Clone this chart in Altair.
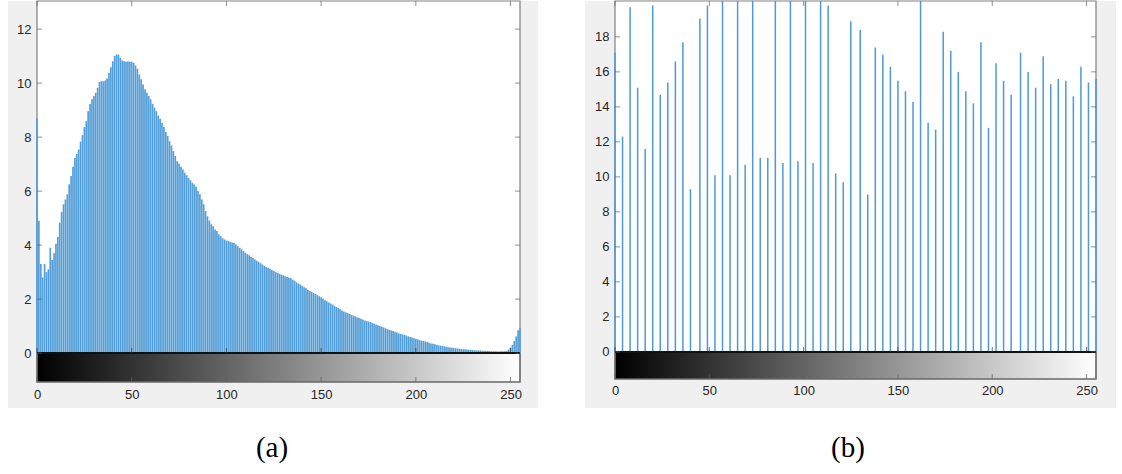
import altair as alt
import pandas as pd

# ---------------- data ----------------
# (a) histogram of original image, one count (scaled) per gray level 0..255
hist_a = [
    8.7, 4.9, 3.3, 2.8, 3.3, 3.0, 3.1, 3.9, 3.45, 3.7, 4.05, 4.3,
    4.83, 5.23, 5.51, 5.69, 5.88, 6.25, 6.56, 6.90, 7.23, 7.38,
    7.54, 7.83, 8.07, 8.37, 8.59, 8.96, 9.23, 9.40, 9.52, 9.64,
    9.83, 10.04, 10.07, 10.07, 10.10, 10.17, 10.38, 10.59, 10.81, 11.0,
    11.06, 11.06, 10.94, 10.84, 10.81, 10.79, 10.81, 10.79, 10.79, 10.75,
    10.65, 10.53, 10.32, 10.14, 9.95, 9.77, 9.64, 9.52, 9.40, 9.23,
    9.09, 8.96, 8.80, 8.68, 8.53, 8.37, 8.19, 8.04, 7.85, 7.69,
    7.48, 7.30, 7.11, 7.01, 6.90, 6.80, 6.68, 6.59, 6.49, 6.40,
    6.31, 6.25, 6.16, 6.00, 5.88, 5.69, 5.51, 5.26, 5.07, 4.91,
    4.77, 4.70, 4.58, 4.52, 4.40, 4.33, 4.25, 4.21, 4.17, 4.15,
    4.12, 4.10, 4.09, 4.02, 3.96, 3.90, 3.84, 3.78, 3.72, 3.66,
    3.62, 3.57, 3.52, 3.47, 3.42, 3.38, 3.33, 3.28, 3.23, 3.19,
    3.16, 3.12, 3.08, 3.04, 3.00, 2.97, 2.94, 2.91, 2.88, 2.85,
    2.82, 2.80, 2.78, 2.72, 2.68, 2.62, 2.58, 2.54, 2.49, 2.44,
    2.40, 2.35, 2.30, 2.27, 2.23, 2.19, 2.15, 2.11, 2.07, 2.02,
    1.96, 1.92, 1.88, 1.84, 1.80, 1.75, 1.71, 1.67, 1.63, 1.58,
    1.54, 1.51, 1.48, 1.45, 1.42, 1.39, 1.36, 1.33, 1.30, 1.27,
    1.24, 1.21, 1.19, 1.17, 1.15, 1.12, 1.09, 1.06, 1.03, 1.00,
    0.98, 0.95, 0.92, 0.89, 0.86, 0.84, 0.82, 0.79, 0.76, 0.73,
    0.71, 0.69, 0.67, 0.65, 0.62, 0.60, 0.58, 0.55, 0.53, 0.51,
    0.48, 0.46, 0.45, 0.43, 0.41, 0.38, 0.36, 0.35, 0.33, 0.31,
    0.29, 0.28, 0.27, 0.25, 0.24, 0.22, 0.21, 0.20, 0.19, 0.18,
    0.17, 0.16, 0.15, 0.14, 0.14, 0.13, 0.12, 0.12, 0.11, 0.11,
    0.10, 0.10, 0.10, 0.09, 0.09, 0.08, 0.08, 0.08, 0.07, 0.07,
    0.07, 0.07, 0.06, 0.07, 0.07, 0.07, 0.09, 0.13, 0.20, 0.30,
    0.45, 0.62, 0.85, 0.92,
]
levels_a = list(range(256))

# (b) histogram after equalization: 64 occupied gray levels
levels_b = [0, 4, 8, 12, 16, 20, 24, 28, 32, 36, 40, 45, 49, 53, 57, 61,
            65, 69, 73, 77, 81, 85, 89, 93, 97, 101, 105, 109, 113, 117, 121, 125,
            130, 134, 138, 142, 146, 150, 154, 158, 162, 166, 170, 174, 178, 182, 186, 190,
            194, 198, 202, 206, 210, 215, 219, 223, 227, 231, 235, 239, 243, 247, 251, 255]
hist_b = [17.1, 12.3, 19.7, 15.1, 11.6, 19.8, 14.7, 15.4, 16.6, 17.7, 9.3, 19.05, 19.8, 10.1, 22.0, 10.1,
          22.0, 10.7, 22.0, 11.1, 11.1, 22.0, 10.8, 22.0, 10.9, 22.0, 10.8, 22.0, 19.8, 10.2, 9.7, 18.9,
          18.4, 9.0, 17.4, 17.0, 16.3, 15.5, 14.9, 14.3, 22.0, 13.1, 12.7, 18.3, 17.2, 16.0, 14.9, 14.2,
          17.7, 12.8, 16.5, 15.5, 14.7, 17.1, 16.0, 15.1, 16.9, 15.3, 15.6, 15.5, 14.6, 16.3, 15.4, 15.6]

x_ticks = [0, 50, 100, 150, 200, 250]
y_ticks_a = [0, 2, 4, 6, 8, 10, 12]
y_ticks_b = [0, 2, 4, 6, 8, 10, 12, 14, 16, 18]

assert len(hist_a) == 256
assert len(hist_b) == len(levels_b) == 64

FONT = "Liberation Sans"
LABEL_COLOR = "#262626"

GRAY_RAMP = alt.LinearGradient(
    gradient="linear", x1=0, x2=1, y1=0, y2=0,
    stops=[alt.GradientStop(color="#000000", offset=0),
           alt.GradientStop(color="#ffffff", offset=1)])


def panel(levels, counts, W, H, ymin, ymax, yticks, stem_w, stem_color,
          bg_left, bg_right, label, label_x, xpad):
    xs = alt.Scale(domain=[0, 255], nice=False, zero=False)
    ys = alt.Scale(domain=[ymin, ymax], nice=False, zero=False, clamp=True)
    one = pd.DataFrame({"a": [0]})

    bg = alt.Chart(one).mark_rect(color="#f0f0f0").encode(
        x=alt.value(-bg_left), x2=alt.value(W + bg_right),
        y=alt.value(0), y2=alt.value(407))
    white = alt.Chart(one).mark_rect(color="white").encode(
        x=alt.value(0), x2=alt.value(W), y=alt.value(0), y2=alt.value(H))
    frame = alt.Chart(one).mark_rect(fill=None, stroke="#808080", strokeWidth=1.2).encode(
        x=alt.value(0), x2=alt.value(W), y=alt.value(0), y2=alt.value(H))

    grad_box_df = pd.DataFrame({"x0": [0], "x1": [255], "y0": [ymin], "y1": [0]})
    gradient = alt.Chart(grad_box_df).mark_rect(fill=GRAY_RAMP, stroke="#3a3a3a",
                                                strokeWidth=1.2).encode(
        x=alt.X("x0:Q", scale=xs, title=None,
                axis=alt.Axis(values=x_ticks, grid=False, ticks=False, domain=False,
                              labelPadding=xpad, labelFontSize=13, labelFont=FONT,
                              labelColor=LABEL_COLOR, labelFlush=False, zindex=2)),
        x2="x1:Q",
        y=alt.Y("y0:Q", scale=ys, title=None,
                axis=alt.Axis(values=yticks, grid=False, ticks=False, domain=False,
                              labelPadding=6, labelFontSize=13, labelFont=FONT,
                              labelColor=LABEL_COLOR, zindex=2)),
        y2="y1:Q",
    )
    zero_line = alt.Chart(grad_box_df).mark_rule(color="#111111", strokeWidth=2).encode(
        x="x0:Q", x2="x1:Q", y="y1:Q")

    df = pd.DataFrame({"level": levels, "count": counts, "base": [0] * len(levels)})
    stems = alt.Chart(df).mark_rule(color=stem_color, strokeWidth=stem_w).encode(
        x="level:Q", y="count:Q", y2="base:Q")

    xt = pd.DataFrame({"t": x_ticks, "top": [ymax] * 6, "zero": [0] * 6, "bot": [ymin] * 6})
    top_ticks = alt.Chart(xt).mark_tick(orient="vertical", size=5, thickness=1,
                                        color="#606060", yOffset=2.5).encode(x="t:Q", y="top:Q")
    zero_ticks = alt.Chart(xt).mark_tick(orient="vertical", size=5, thickness=1,
                                         color="#333333", yOffset=-2.5).encode(x="t:Q", y="zero:Q")
    bot_ticks = alt.Chart(xt).mark_tick(orient="vertical", size=5, thickness=1,
                                        color="#606060", yOffset=-2.5).encode(x="t:Q", y="bot:Q")
    yt = pd.DataFrame({"t": yticks, "left": [0] * len(yticks), "right": [255] * len(yticks)})
    left_ticks = alt.Chart(yt).mark_tick(orient="horizontal", size=5, thickness=1,
                                         color="#606060", xOffset=2.5).encode(x="left:Q", y="t:Q")
    right_ticks = alt.Chart(yt).mark_tick(orient="horizontal", size=5, thickness=1,
                                          color="#606060", xOffset=-2.5).encode(x="right:Q", y="t:Q")

    lab = alt.Chart(pd.DataFrame({"t": [label]})).mark_text(
        font="Liberation Serif", fontSize=29, color="#000000", baseline="middle", align="center"
    ).encode(text="t:N", x=alt.value(label_x), y=alt.value(447))

    return alt.layer(bg, white, gradient, frame, stems, zero_line,
                     top_ticks, zero_ticks, bot_ticks, left_ticks, right_ticks, lab
                     ).properties(width=W, height=H)


left = panel(levels_a, hist_a, 483, 381, -1.07, 13.04, y_ticks_a, 1.7, "#559fd8",
             29, 18, "(a)", 235, 6)
right = panel(levels_b, hist_b, 481, 378, -1.55, 20.05, y_ticks_b, 1.5, "#4d9ad6",
              30, 20, "(b)", 233, 5)

chart = alt.hconcat(left, right, spacing=47).properties(
    padding={"left": 8, "top": 0, "right": 6, "bottom": 0},
    background="white",
).configure_view(stroke=None)

chart.save("out.html", embed_options={"renderer": "svg", "actions": False})
